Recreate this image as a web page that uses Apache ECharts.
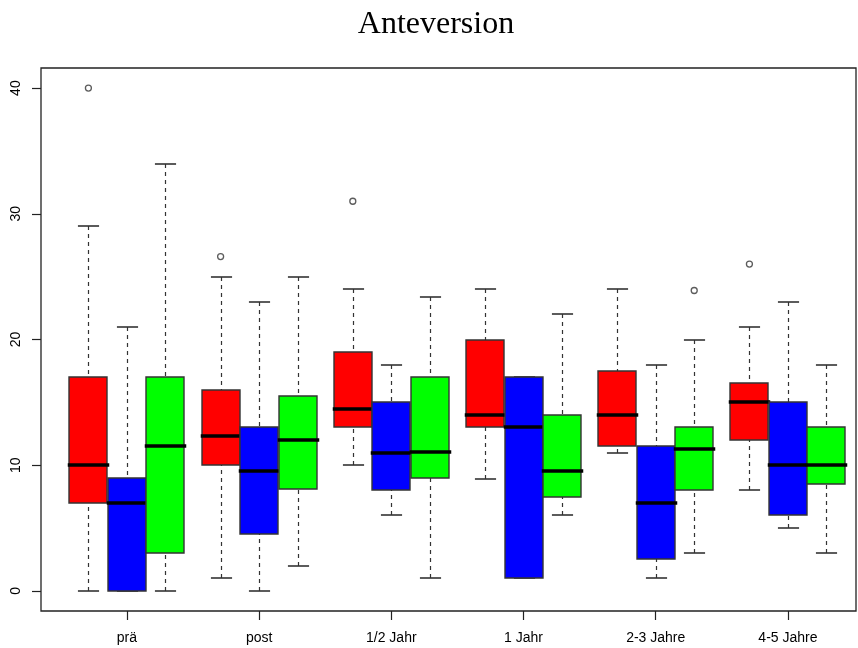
<!DOCTYPE html>
<html>
<head>
<meta charset="utf-8">
<script src="https://cdn.jsdelivr.net/npm/echarts@6/dist/echarts.min.js"></script>
<style>
html,body{margin:0;padding:0;background:#fff;}
#chart{width:858px;height:648px;}
</style>
</head>
<body>
<div id="chart"></div>
<script>
// ---- data ----
const categories = ['prä', 'post', '1/2 Jahr', '1 Jahr', '2-3 Jahre', '4-5 Jahre'];
// [lower whisker, Q1, median, Q3, upper whisker]
const redStats = [
  [0, 7, 10, 17, 29],
  [1, 10, 12.35, 16, 25],
  [10, 13, 14.5, 19, 24],
  [8.9, 13, 14, 20, 24],
  [11, 11.5, 14, 17.5, 24],
  [8, 12, 15, 16.5, 21]
];
const blueStats = [
  [0, 0, 7, 9, 21],
  [0, 4.5, 9.5, 13, 23],
  [6, 8, 11, 15, 18],
  [1, 1, 13, 17, 17],
  [1, 2.5, 7, 11.5, 18],
  [5, 6, 10, 15, 23]
];
const greenStats = [
  [0, 3, 11.5, 17, 34],
  [2, 8.1, 12, 15.5, 25],
  [1, 9, 11.05, 17, 23.4],
  [6, 7.5, 9.5, 14, 22],
  [3, 8, 11.3, 13, 20],
  [3, 8.5, 10, 13, 18]
];
// [group index, value]
const redOutliers = [[0, 40], [1, 26.6], [2, 31], [5, 26]];
const blueOutliers = [];
const greenOutliers = [[4, 23.9]];
const yTicks = [0, 10, 20, 30, 40];

// ---- layout constants ----
const BOX_W = 0.2912;
const BOX_HALF = BOX_W / 2;
const CAP_HALF = 0.08;
const OFFSETS = [-BOX_W, 0, BOX_W];
const COLORS = ['#FF0000', '#0000FF', '#00FF00'];

function boxData(stats, off) {
  return stats.map((s, i) => [i + 1 + off].concat(s));
}
function outData(list, off) {
  return list.map(([g, v]) => [g + 1 + off, v]);
}

function makeRender(color) {
  return function (params, api) {
    const x = api.value(0);
    const lw = api.value(1), q1 = api.value(2), med = api.value(3), q3 = api.value(4), uw = api.value(5);
    const cx = Math.round(api.coord([x, 0])[0]) + 0.5;
    const yLw = Math.round(api.coord([x, lw])[1]);
    const yQ1 = Math.round(api.coord([x, q1])[1]);
    const yMed = Math.round(api.coord([x, med])[1]);
    const yQ3 = Math.round(api.coord([x, q3])[1]);
    const yUw = Math.round(api.coord([x, uw])[1]);
    const half = api.size([BOX_HALF, 0])[0];
    const capHalf = api.size([CAP_HALF, 0])[0];
    const dash = { stroke: '#333', lineWidth: 1.2, lineDash: [4, 4] };
    const solid = { stroke: '#333', lineWidth: 1.6 };
    const children = [];
    if (yUw < yQ3) children.push({ type: 'line', shape: { x1: cx, y1: yUw, x2: cx, y2: yQ3 }, style: dash });
    if (yLw > yQ1) children.push({ type: 'line', shape: { x1: cx, y1: yLw, x2: cx, y2: yQ1 }, style: dash });
    children.push({ type: 'line', shape: { x1: cx - capHalf, y1: yUw, x2: cx + capHalf, y2: yUw }, style: solid });
    children.push({ type: 'line', shape: { x1: cx - capHalf, y1: yLw, x2: cx + capHalf, y2: yLw }, style: solid });
    children.push({
      type: 'rect',
      shape: { x: Math.round(cx - half), y: yQ3, width: Math.round(2 * half), height: yQ1 - yQ3 },
      style: { fill: color, stroke: '#333', lineWidth: 1.4 }
    });
    children.push({
      type: 'line',
      shape: { x1: cx - half - 1.5, y1: yMed, x2: cx + half + 1.5, y2: yMed },
      style: { stroke: '#000', lineWidth: 3.6 }
    });
    return { type: 'group', children: children };
  };
}

const allStats = [redStats, blueStats, greenStats];
const allOut = [redOutliers, blueOutliers, greenOutliers];
const series = [];
allStats.forEach((st, k) => {
  series.push({
    type: 'custom',
    renderItem: makeRender(COLORS[k]),
    encode: { x: 0, y: [1, 2, 3, 4, 5] },
    data: boxData(st, OFFSETS[k]),
    clip: false,
    silent: true,
    z: 2
  });
});
allOut.forEach((ol, k) => {
  if (!ol.length) return;
  series.push({
    type: 'scatter',
    data: outData(ol, OFFSETS[k]),
    symbol: 'circle',
    symbolSize: 6,
    itemStyle: { color: 'rgba(255,255,255,0)', borderColor: '#333', borderWidth: 1.3 },
    silent: true,
    z: 3
  });
});

const chart = echarts.init(document.getElementById('chart'), null, { renderer: 'canvas' });
chart.setOption({
  animation: false,
  backgroundColor: '#fff',
  title: {
    text: 'Anteversion',
    left: 431,
    top: 4,
    textAlign: 'center',
    textStyle: { fontFamily: 'Liberation Serif', fontSize: 32, fontWeight: 'normal', color: '#000' }
  },
  grid: {
    left: 41, right: 2, top: 68, bottom: 37,
    show: true, borderColor: '#222', borderWidth: 1.3, backgroundColor: 'transparent'
  },
  xAxis: {
    type: 'value',
    min: 0.3502,
    max: 6.515,
    splitLine: { show: false },
    axisLine: { show: false, onZero: false },
    axisTick: { show: true, customValues: [1, 2, 3, 4, 5, 6], length: 9, lineStyle: { color: '#222', width: 1.2 } },
    axisLabel: {
      customValues: [1, 2, 3, 4, 5, 6],
      formatter: (v) => categories[Math.round(v) - 1] || '',
      margin: 20,
      fontFamily: 'Liberation Sans',
      fontSize: 14,
      color: '#000'
    }
  },
  yAxis: {
    type: 'value',
    min: -1.6,
    max: 41.6,
    splitLine: { show: false },
    axisLine: { show: false, onZero: false },
    axisTick: { show: true, customValues: yTicks, length: 9, lineStyle: { color: '#222', width: 1.2 } },
    axisLabel: {
      customValues: yTicks,
      rotate: 90,
      margin: 18,
      fontFamily: 'Liberation Sans',
      fontSize: 14,
      color: '#000'
    }
  },
  series: series
});
</script>
</body>
</html>
